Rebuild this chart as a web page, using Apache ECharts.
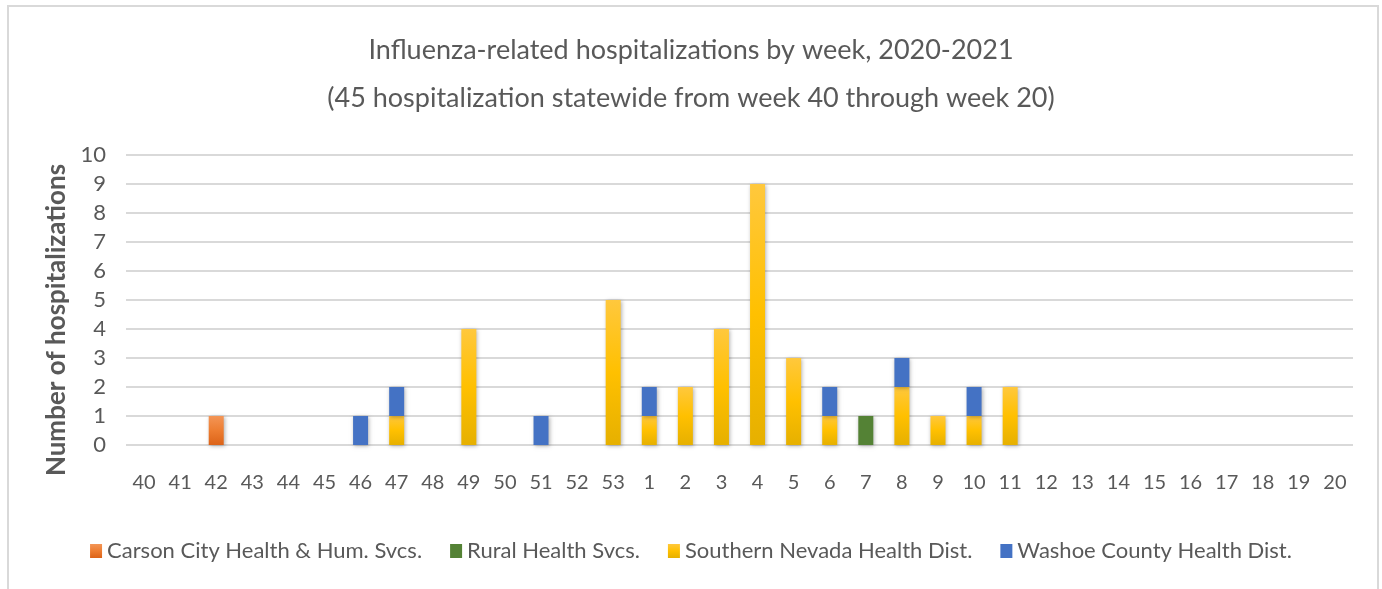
<!DOCTYPE html>
<html>
<head>
<meta charset="utf-8">
<script src="https://cdn.jsdelivr.net/npm/echarts@6/dist/echarts.min.js"></script>
<style>
  html, body { margin: 0; padding: 0; background: #fff; }
  #main { width: 1382px; height: 589px; }
</style>
</head>
<body>
<div id="main"></div>
<script>
// week numbers, season 2020-2021
var weeks = ['40','41','42','43','44','45','46','47','48','49','50','51','52','53',
  '1','2','3','4','5','6','7','8','9','10','11','12','13','14','15','16','17','18','19','20'];

var carson   = [0,0,1,0,0,0,0,0,0,0,0,0,0,0, 0,0,0,0,0,0,0,0,0,0,0,0,0,0,0,0,0,0,0,0];
var rural    = [0,0,0,0,0,0,0,0,0,0,0,0,0,0, 0,0,0,0,0,0,1,0,0,0,0,0,0,0,0,0,0,0,0,0];
var southern = [0,0,0,0,0,0,0,1,0,4,0,0,0,5, 1,2,4,9,3,1,0,2,1,1,2,0,0,0,0,0,0,0,0,0];
var washoe   = [0,0,0,0,0,0,1,1,0,0,0,1,0,0, 1,0,0,0,0,1,0,1,0,1,0,0,0,0,0,0,0,0,0,0];

var seriesNames = ['Carson City Health & Hum. Svcs.', 'Rural Health Svcs.',
  'Southern Nevada Health Dist.', 'Washoe County Health Dist.'];

var txt = '#595959';
var font = 'Lato, "Open Sans", sans-serif';

function grad(top, mid, bot) {
  return new echarts.graphic.LinearGradient(0, 0, 0, 1, [
    {offset: 0, color: top}, {offset: 0.5, color: mid}, {offset: 1, color: bot}
  ]);
}

// zeros shouldn't draw anything
function nz(arr) {
  return arr.map(function (v) { return v === 0 ? '-' : v; });
}

function barSeries(name, data, color) {
  return {
    name: name,
    type: 'bar',
    stack: 'total',
    barWidth: 15,
    data: nz(data),
    itemStyle: {
      color: color,
      shadowBlur: 4,
      shadowColor: 'rgba(0,0,0,0.3)',
      shadowOffsetX: 1,
      shadowOffsetY: 1
    }
  };
}

var myChart = echarts.init(document.getElementById('main'));

var option = {
  animation: false,
  textStyle: { fontFamily: font },
  title: {
    text: 'Influenza-related hospitalizations by week, 2020-2021\n(45 hospitalization statewide from week 40 through week 20)',
    left: 'center',
    top: 21,
    textStyle: { fontFamily: font, fontSize: 27, fontWeight: 'normal', color: txt, lineHeight: 48 }
  },
  graphic: [
    {
      type: 'rect',
      shape: { x: 8, y: 6, width: 1370, height: 620 },
      style: { fill: 'none', stroke: '#d9d9d9', lineWidth: 2 },
      silent: true
    }
  ],
  legend: {
    top: 535,
    left: 'center',
    itemWidth: 12,
    itemHeight: 14,
    itemGap: 28,
    icon: 'rect',
    textStyle: { fontFamily: font, fontSize: 22, color: txt },
    data: seriesNames
  },
  grid: { left: 126, right: 29, top: 155, bottom: 144, containLabel: false },
  xAxis: {
    type: 'category',
    data: weeks,
    axisLine: { show: false },
    axisTick: { show: false },
    axisLabel: { interval: 0, fontSize: 20, color: txt, margin: 28, fontFamily: font }
  },
  yAxis: {
    type: 'value',
    min: 0,
    max: 10,
    interval: 1,
    name: 'Number of hospitalizations',
    nameLocation: 'middle',
    nameGap: 55,
    nameTextStyle: { fontSize: 26, fontWeight: 'bold', color: txt, fontFamily: font, padding: [0, 40, 0, 0] },
    axisLine: { show: false },
    axisTick: { show: false },
    axisLabel: { fontSize: 22, color: txt, margin: 20, fontFamily: font },
    splitLine: { lineStyle: { color: '#d9d9d9', width: 2 } }
  },
  series: [
    barSeries(seriesNames[0], carson, grad('#F39556', '#ED7D31', '#DC6318')),
    barSeries(seriesNames[1], rural, '#548235'),
    barSeries(seriesNames[2], southern, grad('#FFC83D', '#FFC000', '#E6B000')),
    barSeries(seriesNames[3], washoe, '#4472C4')
  ]
};

myChart.setOption(option);
</script>
</body>
</html>
